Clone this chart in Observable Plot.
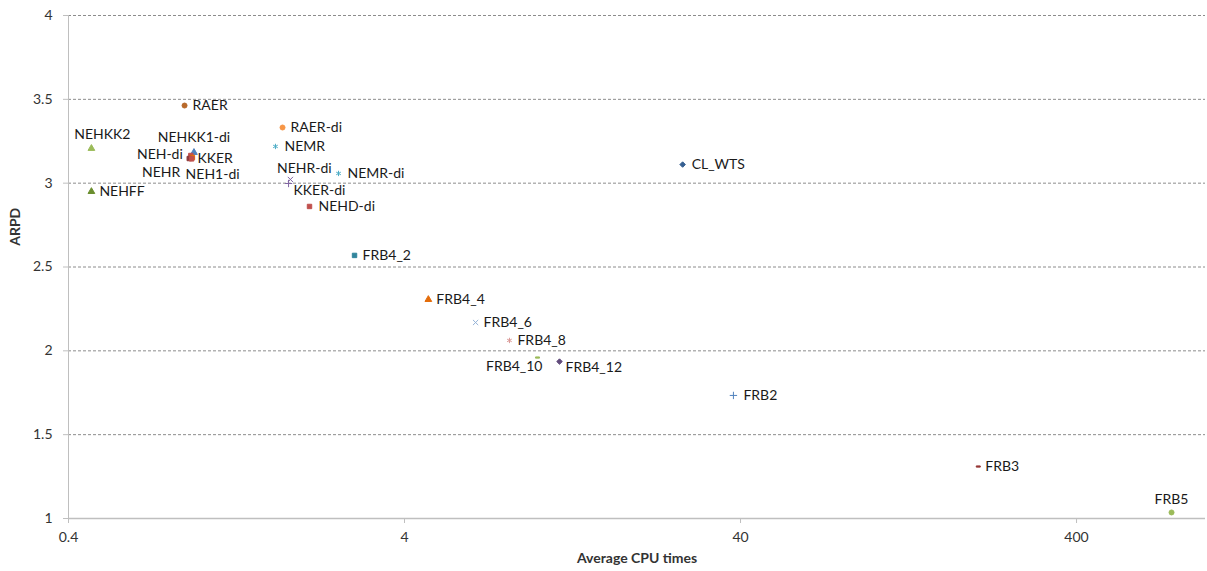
<!DOCTYPE html>
<html><head><meta charset="utf-8">
<script src="https://cdn.jsdelivr.net/npm/d3@7"></script>
<script src="https://cdn.jsdelivr.net/npm/@observablehq/plot@0.6"></script>
<style>
body{margin:0;background:#fff}
#chart svg{font-family:Lato,"Open Sans",sans-serif}
</style>
</head><body><div id="chart"></div>
<script>
// ---- data ----
const names = ["RAER","NEHKK2","NEHFF","NEHKK1-di","NEH-di","KKER","NEHR","NEH1-di","RAER-di","NEMR","NEHR-di","KKER-di","NEMR-di","NEHD-di","FRB4_2","FRB4_4","FRB4_6","FRB4_8","FRB4_10","FRB4_12","CL_WTS","FRB2","FRB3","FRB5"];
const cpuTimes = [0.886,0.468,0.468,0.945,0.925,0.935,0.915,0.93,1.734,1.652,1.83,1.807,2.545,2.086,2.84,4.71,6.51,8.21,9.95,11.57,26.9,38.1,204,767];
const arpd = [3.463,3.207,2.95,3.183,3.165,3.153,3.147,3.145,3.332,3.219,3.022,2.998,3.058,2.861,2.569,2.306,2.169,2.062,1.960,1.936,3.111,1.734,1.310,1.036];
const xTicks = [0.4,4,40,400];
const yTicks = [1,1.5,2,2.5,3,3.5,4];

// ---- styles ----
const dash = {draw(ctx, size){const w=Math.sqrt(size)*0.9; ctx.rect(-w/2,-0.6,w,1.2);}};
const rhombus = {draw(ctx, size){const s=Math.sqrt(size)*0.62; ctx.moveTo(0,-s); ctx.lineTo(s,0); ctx.lineTo(0,s); ctx.lineTo(-s,0); ctx.closePath();}};
const markerSymbols = ["circle","triangle","triangle","triangle","square","square","square","square","circle","asterisk","times","plus","asterisk","square","square","triangle","times","asterisk",dash,rhombus,rhombus,"plus",dash,"circle"];
const markerColors = ["#B8692A","#9BBB59","#6B8E2F","#4F81BD","#C0504D","#E46C0A","#8B3A3A","#C0504D","#F79646","#4BACC6","#8064A2","#8064A2","#4BACC6","#C0504D","#31859C","#E46C0A","#95B3D7","#D99694","#9BBB59","#604A7B","#366092","#4F81BD","#953735","#9BBB59"];
const labelAnchor = ["start","middle","start","middle","end","start","end","start","start","start","middle","start","start","start","start","start","start","start","end","start","start","start","start","middle"];
const labelDx = [8,11,8,0,-8,5,-9,-6,8,9,14,5,9,9,8,8,8,8,5,6,9,10,7,0];
const labelDy = [0,-14,0,-15,-1,1,14,16,0,0,-11,7,0,0,0,0,0,0,9,6,0,0,0,-13];

const idx = names.map((_, i) => i);
const textColor = "#1a1a1a";

const labelMarks = idx.map(i => Plot.text([i], {
  x: j => cpuTimes[j], y: j => arpd[j], text: j => names[j],
  dx: labelDx[i], dy: labelDy[i], textAnchor: labelAnchor[i],
  fontSize: 14, fill: textColor
}));

const chart = Plot.plot({
  width: 1207, height: 571,
  marginLeft: 68, marginRight: 2, marginTop: 15, marginBottom: 53,
  x: {type: "log", domain: [0.4, 968]},
  y: {domain: [1, 4]},
  marks: [
    Plot.ruleY(yTicks.filter(d => d > 1), {stroke: "#8c8c8c", strokeDasharray: "3,2", strokeWidth: 1}),
    Plot.ruleX([0.4], {stroke: "#bfbfbf"}),
    Plot.ruleY([1], {stroke: "#bfbfbf", strokeWidth: 1.5}),
    Plot.axisX(xTicks, {tickFormat: d => String(d), tickSize: 5, tickPadding: 9, fontSize: 14, color: "#333", stroke: "#bfbfbf", label: null}),
    Plot.axisY(yTicks, {tickFormat: d => String(d), tickSize: 5, tickPadding: 11, fontSize: 14, color: "#333", stroke: "#bfbfbf", label: null}),
    Plot.dot(idx, {x: i => cpuTimes[i], y: i => arpd[i], symbol: i => markerSymbols[i], fill: i => markerColors[i], stroke: i => markerColors[i], strokeWidth: 1, r: 2.5}),
    ...labelMarks,
    Plot.text(["Average CPU times"], {frameAnchor: "bottom", dy: 44, text: d => d, fontWeight: "bold", fontSize: 14, fill: "#333"}),
    Plot.text(["ARPD"], {x: 0.4, y: 2.74, dx: -53, rotate: -90, text: d => d, fontWeight: "bold", fontSize: 14, fill: "#333"})
  ]
});
document.getElementById("chart").appendChild(chart);
</script>
</body></html>
